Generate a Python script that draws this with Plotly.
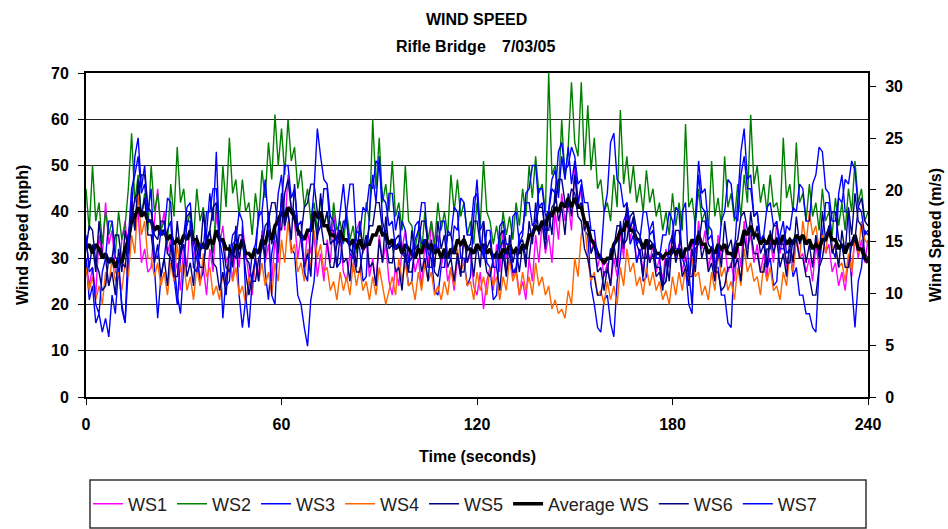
import plotly.graph_objects as go

# One reading per second over the 4-minute record
time_s = list(range(0, 241))

# Anemometer readings (mph), rows of 20 s
ws1 = [30, 24, 28, 22, 35, 30, 42, 33, 36, 27, 26, 34, 38, 31, 44, 36, 40, 29, 32, 27,
       28, 38, 45, 36, 40, 31, 34, 26, 29, 23, 33, 28, 38, 30, 34, 25, 28, 22, 32, 27,
       40, 33, 37, 29, 31, 25, 33, 28, 37, 31, 26, 22, 30, 26, 36, 29, 33, 25, 34, 29,
       42, 36, 48, 40, 38, 30, 35, 28, 36, 31, 35, 26, 31, 25, 34, 29, 40, 33, 35, 27,
       25, 31, 27, 36, 38, 31, 34, 26, 30, 24, 35, 29, 33, 25, 22, 28, 24, 32, 36, 30,
       32, 27, 30, 24, 33, 28, 38, 31, 35, 28, 32, 25, 28, 23, 30, 26, 35, 29, 31, 24,
       22, 27, 19, 25, 28, 23, 33, 27, 36, 30, 33, 26, 28, 22, 25, 21, 30, 25, 35, 29,
       38, 31, 35, 29, 40, 34, 44, 38, 42, 36, 50, 41, 45, 36, 38, 31, 34, 28, 31, 26,
       29, 24, 30, 26, 36, 30, 40, 34, 37, 29, 32, 27, 34, 29, 33, 27, 30, 25, 32, 28,
       36, 30, 33, 27, 31, 26, 34, 29, 38, 32, 36, 28, 31, 26, 35, 30, 33, 27, 29, 25,
       33, 28, 38, 32, 35, 29, 33, 27, 31, 26, 34, 29, 38, 31, 35, 28, 32, 27, 35, 30,
       31, 27, 30, 25, 33, 28, 36, 31, 33, 27, 29, 24, 27, 23, 30, 26, 35, 30, 34, 29,
       34]

ws2 = [45, 36, 50, 38, 42, 33, 40, 35, 38, 31, 40, 34, 37, 45, 57, 42, 48, 39, 44, 36,
       50, 40, 44, 36, 38, 33, 46, 39, 54, 42, 45, 37, 40, 34, 45, 38, 41, 34, 36, 31,
       42, 36, 50, 41, 56, 44, 47, 39, 47, 40, 42, 35, 44, 38, 49, 43, 55, 47, 61, 50,
       58, 48, 60, 51, 54, 45, 49, 41, 45, 38, 42, 36, 43, 37, 40, 34, 42, 36, 38, 33,
       40, 34, 37, 31, 36, 33, 42, 38, 60, 45, 56, 42, 46, 40, 51, 39, 42, 36, 50, 38,
       37, 32, 36, 31, 40, 34, 38, 33, 42, 36, 40, 35, 48, 40, 47, 39, 42, 35, 38, 33,
       42, 37, 51, 40, 38, 33, 37, 32, 40, 35, 39, 34, 42, 37, 45, 39, 50, 43, 52, 44,
       46, 40, 70, 48, 50, 44, 60, 47, 54, 68, 55, 52, 68, 50, 63, 49, 56, 45, 47, 40,
       42, 38, 48, 41, 62, 46, 52, 44, 50, 42, 46, 40, 49, 42, 45, 39, 42, 36, 40, 35,
       44, 37, 42, 36, 59, 41, 43, 37, 45, 38, 40, 35, 51, 39, 43, 37, 52, 41, 44, 38,
       46, 39, 48, 42, 61, 46, 50, 42, 46, 40, 48, 41, 42, 38, 56, 43, 46, 40, 55, 42,
       44, 38, 46, 39, 42, 36, 45, 38, 40, 35, 43, 37, 42, 36, 45, 40, 51, 42, 45, 38,
       40]

ws3 = [30, 21, 24, 16, 18, 14, 17, 13, 22, 18, 28, 20, 16, 28, 40, 52, 56, 45, 50, 40,
       45, 28, 17, 26, 30, 36, 38, 26, 20, 30, 35, 41, 42, 33, 30, 25, 27, 36, 44, 38,
       53, 33, 17, 26, 30, 35, 36, 22, 15, 21, 24, 31, 33, 39, 40, 27, 21, 31, 35, 44,
       48, 38, 40, 32, 31, 22, 20, 15, 11, 21, 25, 35, 37, 45, 45, 36, 36, 28, 29, 36,
       40, 46, 46, 34, 32, 25, 26, 40, 48, 42, 52, 38, 35, 44, 44, 36, 40, 31, 30, 24,
       25, 34, 36, 42, 42, 31, 30, 23, 22, 28, 28, 36, 35, 41, 40, 30, 30, 24, 26, 39,
       47, 36, 38, 29, 28, 21, 22, 32, 34, 27, 30, 39, 40, 33, 35, 44, 45, 50, 50, 41,
       42, 34, 41, 47, 49, 43, 52, 47, 54, 46, 51, 42, 46, 36, 35, 24, 20, 15, 14, 21,
       22, 16, 13, 25, 30, 38, 40, 33, 35, 29, 32, 25, 26, 36, 38, 30, 30, 24, 25, 33,
       35, 41, 40, 30, 28, 20, 18, 38, 51, 44, 45, 37, 36, 28, 28, 22, 22, 16, 15, 31,
       42, 53, 58, 47, 48, 39, 40, 33, 35, 28, 30, 24, 25, 35, 38, 31, 32, 26, 28, 22,
       22, 18, 18, 15, 14, 28, 35, 42, 42, 32, 30, 44, 48, 40, 40, 24, 15, 25, 28, 36,
       35]

ws4 = [28, 23, 26, 21, 24, 20, 27, 24, 30, 25, 27, 23, 29, 26, 35, 31, 44, 35, 38, 30,
       30, 26, 29, 24, 27, 22, 29, 25, 33, 27, 29, 23, 26, 21, 28, 24, 31, 26, 28, 22,
       24, 21, 27, 23, 30, 25, 28, 22, 24, 20, 26, 23, 30, 25, 29, 24, 27, 22, 29, 25,
       34, 29, 38, 31, 33, 27, 29, 25, 32, 28, 36, 30, 33, 27, 28, 23, 25, 21, 27, 23,
       26, 22, 29, 24, 28, 23, 25, 21, 26, 22, 28, 24, 20, 23, 26, 22, 30, 25, 29, 24,
       25, 21, 27, 23, 29, 25, 27, 22, 24, 21, 25, 22, 28, 24, 32, 27, 29, 24, 25, 21,
       27, 23, 26, 22, 28, 24, 26, 21, 26, 23, 30, 25, 27, 22, 27, 23, 26, 22, 29, 24,
       26, 22, 24, 19, 21, 18, 19, 17, 23, 20, 30, 26, 35, 38, 30, 25, 27, 22, 23, 20,
       25, 21, 24, 20, 28, 24, 32, 27, 29, 24, 26, 22, 28, 24, 27, 23, 25, 21, 23, 20,
       26, 22, 27, 23, 28, 25, 30, 26, 27, 22, 24, 21, 27, 23, 31, 26, 28, 23, 25, 21,
       28, 24, 32, 27, 29, 25, 26, 22, 29, 25, 28, 23, 24, 21, 27, 24, 31, 27, 34, 30,
       38, 33, 40, 35, 37, 32, 35, 31, 37, 32, 33, 28, 29, 25, 31, 27, 35, 31, 38, 34,
       33]

ws5 = [34, 28, 33, 27, 38, 31, 30, 24, 27, 22, 32, 27, 36, 31, 42, 36, 47, 39, 43, 35,
       35, 29, 33, 26, 30, 24, 33, 28, 38, 31, 33, 26, 29, 24, 35, 30, 40, 33, 36, 29,
       28, 23, 27, 22, 33, 28, 37, 30, 34, 27, 22, 26, 30, 25, 35, 30, 40, 33, 37, 31,
       44, 37, 40, 34, 46, 36, 34, 28, 31, 26, 40, 34, 44, 37, 40, 33, 34, 28, 35, 29,
       30, 25, 34, 28, 38, 32, 35, 28, 29, 24, 34, 29, 39, 32, 33, 27, 28, 23, 32, 27,
       36, 30, 33, 27, 30, 25, 34, 28, 38, 32, 35, 28, 30, 25, 31, 26, 35, 29, 32, 26,
       33, 28, 38, 32, 34, 28, 28, 23, 31, 26, 35, 29, 32, 27, 33, 28, 38, 33, 42, 35,
       38, 32, 40, 35, 45, 38, 41, 35, 44, 39, 48, 41, 42, 36, 38, 31, 33, 27, 28, 23,
       28, 24, 33, 28, 38, 32, 42, 36, 39, 33, 31, 26, 34, 29, 31, 26, 27, 23, 30, 25,
       35, 29, 32, 26, 28, 24, 32, 27, 36, 30, 33, 27, 29, 25, 33, 28, 38, 32, 34, 28,
       30, 25, 35, 30, 40, 34, 37, 31, 33, 28, 36, 31, 34, 28, 31, 26, 34, 29, 39, 33,
       35, 29, 33, 28, 35, 30, 40, 34, 37, 31, 33, 28, 36, 31, 41, 35, 44, 38, 37, 31,
       30]

avg_ws = [32, 33, 31, 33, 32, 30, 31, 29, 30, 28, 30, 29, 32, 34, 38, 39, 41, 39, 40, 38,
          38, 36, 37, 35, 36, 34, 35, 33, 34, 33, 35, 34, 36, 34, 34, 32, 33, 32, 34, 33,
          36, 34, 34, 32, 32, 31, 33, 32, 34, 31, 31, 30, 32, 31, 34, 33, 36, 34, 37, 38,
          40, 39, 41, 40, 39, 36, 35, 34, 36, 36, 40, 39, 40, 37, 37, 35, 35, 34, 36, 34,
          34, 33, 34, 32, 34, 32, 33, 33, 35, 35, 37, 35, 35, 33, 34, 32, 33, 31, 33, 32,
          31, 30, 32, 31, 34, 32, 33, 31, 32, 30, 32, 30, 32, 31, 34, 33, 34, 32, 32, 31,
          33, 32, 33, 31, 32, 30, 31, 30, 32, 31, 33, 31, 32, 31, 33, 32, 35, 35, 37, 36,
          38, 37, 40, 39, 41, 40, 42, 41, 43, 41, 43, 41, 41, 38, 37, 34, 33, 31, 30, 29,
          30, 30, 33, 34, 36, 36, 38, 36, 36, 34, 34, 32, 34, 32, 33, 31, 31, 30, 31, 31,
          32, 31, 32, 30, 32, 32, 34, 33, 35, 33, 33, 31, 32, 31, 33, 32, 33, 31, 31, 30,
          33, 33, 36, 35, 37, 35, 35, 33, 34, 33, 35, 33, 34, 33, 35, 33, 34, 33, 35, 34,
          35, 33, 34, 32, 33, 32, 34, 34, 36, 34, 34, 32, 33, 31, 33, 33, 35, 32, 32, 30,
          29]

ws6 = [32, 37, 36, 29, 27, 23, 24, 30, 30, 35, 35, 29, 28, 35, 38, 43, 44, 48, 48, 41,
       40, 35, 34, 38, 38, 31, 30, 26, 26, 32, 34, 39, 40, 34, 32, 28, 28, 34, 36, 41,
       42, 35, 33, 28, 27, 31, 30, 35, 35, 30, 29, 25, 25, 30, 32, 37, 38, 42, 42, 37,
       36, 44, 47, 41, 40, 35, 35, 41, 42, 46, 46, 40, 38, 33, 33, 28, 28, 33, 34, 38,
       38, 32, 31, 27, 27, 32, 33, 37, 37, 42, 42, 36, 34, 29, 29, 34, 35, 31, 31, 27,
       27, 32, 33, 38, 38, 33, 32, 27, 26, 30, 30, 35, 35, 31, 31, 27, 27, 32, 33, 38,
       38, 33, 32, 27, 26, 30, 30, 35, 36, 31, 31, 27, 27, 33, 34, 30, 30, 36, 37, 41,
       41, 36, 36, 41, 42, 47, 47, 42, 41, 45, 44, 39, 38, 32, 30, 26, 26, 22, 22, 27,
       27, 32, 32, 37, 37, 33, 34, 39, 40, 36, 35, 30, 30, 34, 33, 28, 28, 24, 25, 30,
       31, 36, 36, 31, 30, 26, 26, 32, 33, 38, 38, 33, 32, 27, 27, 23, 24, 28, 28, 33,
       34, 39, 40, 36, 36, 31, 31, 27, 27, 32, 32, 37, 37, 33, 33, 29, 29, 34, 34, 30,
       30, 26, 26, 22, 22, 28, 30, 35, 36, 40, 40, 34, 33, 28, 28, 33, 34, 41, 43, 38,
       37]

ws7 = [35, 27, 28, 20, 18, 27, 30, 38, 38, 30, 30, 19, 16, 34, 45, 48, 52, 44, 46, 38,
       38, 31, 30, 36, 35, 43, 42, 29, 22, 18, 28, 38, 38, 28, 27, 33, 32, 40, 40, 45,
       45, 34, 30, 24, 25, 33, 34, 40, 38, 22, 15, 25, 30, 40, 40, 47, 38, 22, 20, 36,
       42, 50, 50, 43, 45, 37, 38, 27, 25, 37, 45, 58, 52, 47, 46, 39, 38, 33, 40, 46,
       38, 31, 30, 36, 35, 41, 40, 46, 45, 51, 50, 43, 42, 37, 38, 32, 33, 38, 36, 29,
       30, 37, 38, 33, 34, 28, 28, 33, 32, 38, 38, 30, 30, 37, 36, 43, 42, 35, 35, 43,
       44, 34, 30, 36, 36, 28, 28, 37, 38, 33, 33, 27, 28, 35, 36, 42, 42, 37, 38, 45,
       45, 39, 40, 45, 44, 53, 55, 49, 50, 54, 52, 46, 47, 42, 42, 36, 36, 30, 30, 40,
       44, 55, 57, 47, 46, 41, 42, 37, 38, 33, 34, 40, 40, 35, 36, 30, 30, 35, 35, 40,
       38, 32, 32, 40, 42, 27, 20, 38, 48, 41, 40, 34, 35, 29, 30, 38, 40, 47, 46, 39,
       38, 48, 52, 45, 45, 39, 40, 34, 35, 41, 42, 37, 38, 32, 32, 37, 36, 41, 40, 46,
       45, 38, 38, 46, 48, 54, 53, 45, 44, 38, 38, 43, 42, 47, 46, 51, 49, 41, 40, 35,
       36]

series_names = ["WS1", "WS2", "WS3", "WS4", "WS5", "Average WS", "WS6", "WS7"]
series_values = [ws1, ws2, ws3, ws4, ws5, avg_ws, ws6, ws7]
series_colors = ["#FF00FF", "#008000", "#0000FF", "#FF6600",
                 "#000080", "#000000", "#000080", "#0000FF"]
series_widths = [1.4, 1.4, 1.4, 1.4, 1.4, 3.5, 1.4, 1.4]

for vals in series_values:
    assert len(vals) == len(time_s), len(vals)

x_ticks = [0, 60, 120, 180, 240]
mph_ticks = [0, 10, 20, 30, 40, 50, 60, 70]
ms_ticks = [0, 5, 10, 15, 20, 25, 30]
MPH_PER_MS = 2.23694

FONT = "Liberation Sans, Arial, sans-serif"

fig = go.Figure()
for name, vals, col, w in zip(series_names, series_values, series_colors, series_widths):
    fig.add_trace(go.Scatter(
        x=time_s, y=vals, name=name, mode="lines",
        line=dict(color=col, width=w),
    ))

# empty trace that anchors the m/s axis on the right
fig.add_trace(go.Scatter(x=[], y=[], yaxis="y2", showlegend=False, hoverinfo="skip"))

# plot area in pixels: left 86, right 868, top 73, bottom 397
L, R, T, B = 86, 868, 73, 397
W, H = 948, 529


def px(xp):
    return (xp - L) / (R - L)


def py(yp):
    return (B - yp) / (B - T)


bold16 = dict(family=FONT, size=16, color="black", weight="bold")

fig.update_layout(
    width=W, height=H,
    margin=dict(l=L, r=W - R, t=T, b=H - B, pad=0, autoexpand=False),
    paper_bgcolor="white", plot_bgcolor="white",
    showlegend=True,
    xaxis=dict(
        range=[0, 240], tickvals=x_ticks, ticks="outside", ticklen=6,
        tickwidth=1, tickcolor="black", showgrid=False, zeroline=False,
        showline=True, linewidth=2, linecolor="black", mirror=True,
        tickfont=bold16, ticklabelstandoff=6,
    ),
    yaxis=dict(
        range=[0, 70], tickvals=mph_ticks, ticks="outside", ticklen=6,
        tickwidth=1, tickcolor="black", showgrid=True, gridcolor="#222222",
        gridwidth=1, zeroline=False, showline=True, linewidth=2,
        linecolor="black", mirror=True,
        tickfont=bold16, ticklabelstandoff=6,
    ),
    yaxis2=dict(
        range=[0, 70 / MPH_PER_MS], tickvals=ms_ticks, overlaying="y",
        side="right", ticks="outside", ticklen=6, tickwidth=1,
        tickcolor="black", showgrid=False, zeroline=False, showline=True,
        linewidth=2, linecolor="black",
        tickfont=bold16, ticklabelstandoff=6,
    ),
    legend=dict(
        orientation="h", xref="container", x=88 / W, xanchor="left",
        yref="container", y=1 - 504 / H, yanchor="middle",
        font=dict(family=FONT, size=18, color="#222222"),
        bgcolor="rgba(0,0,0,0)", itemwidth=30, traceorder="normal",
    ),
)

# legend frame
fig.add_shape(type="rect", xref="paper", yref="paper",
              x0=px(90), x1=px(866), y0=py(528), y1=py(480),
              line=dict(color="#333333", width=1.5), fillcolor="rgba(0,0,0,0)")

labels = [
    ("WIND SPEED", 476, 20, 0),
    ("Rifle Bridge", 441, 46, 0),
    ("7/03/05", 528, 46, 0),
    ("Time (seconds)", 477, 456, 0),
    ("Wind Speed (mph)", 22, 235, -90),
    ("Wind Speed (m/s)", 935, 235, -90),
]
for text, xp, yp, ang in labels:
    fig.add_annotation(text=text, xref="paper", yref="paper", x=px(xp), y=py(yp),
                       xanchor="center", yanchor="middle", showarrow=False,
                       textangle=ang, font=bold16)

fig.write_html("out.html")
